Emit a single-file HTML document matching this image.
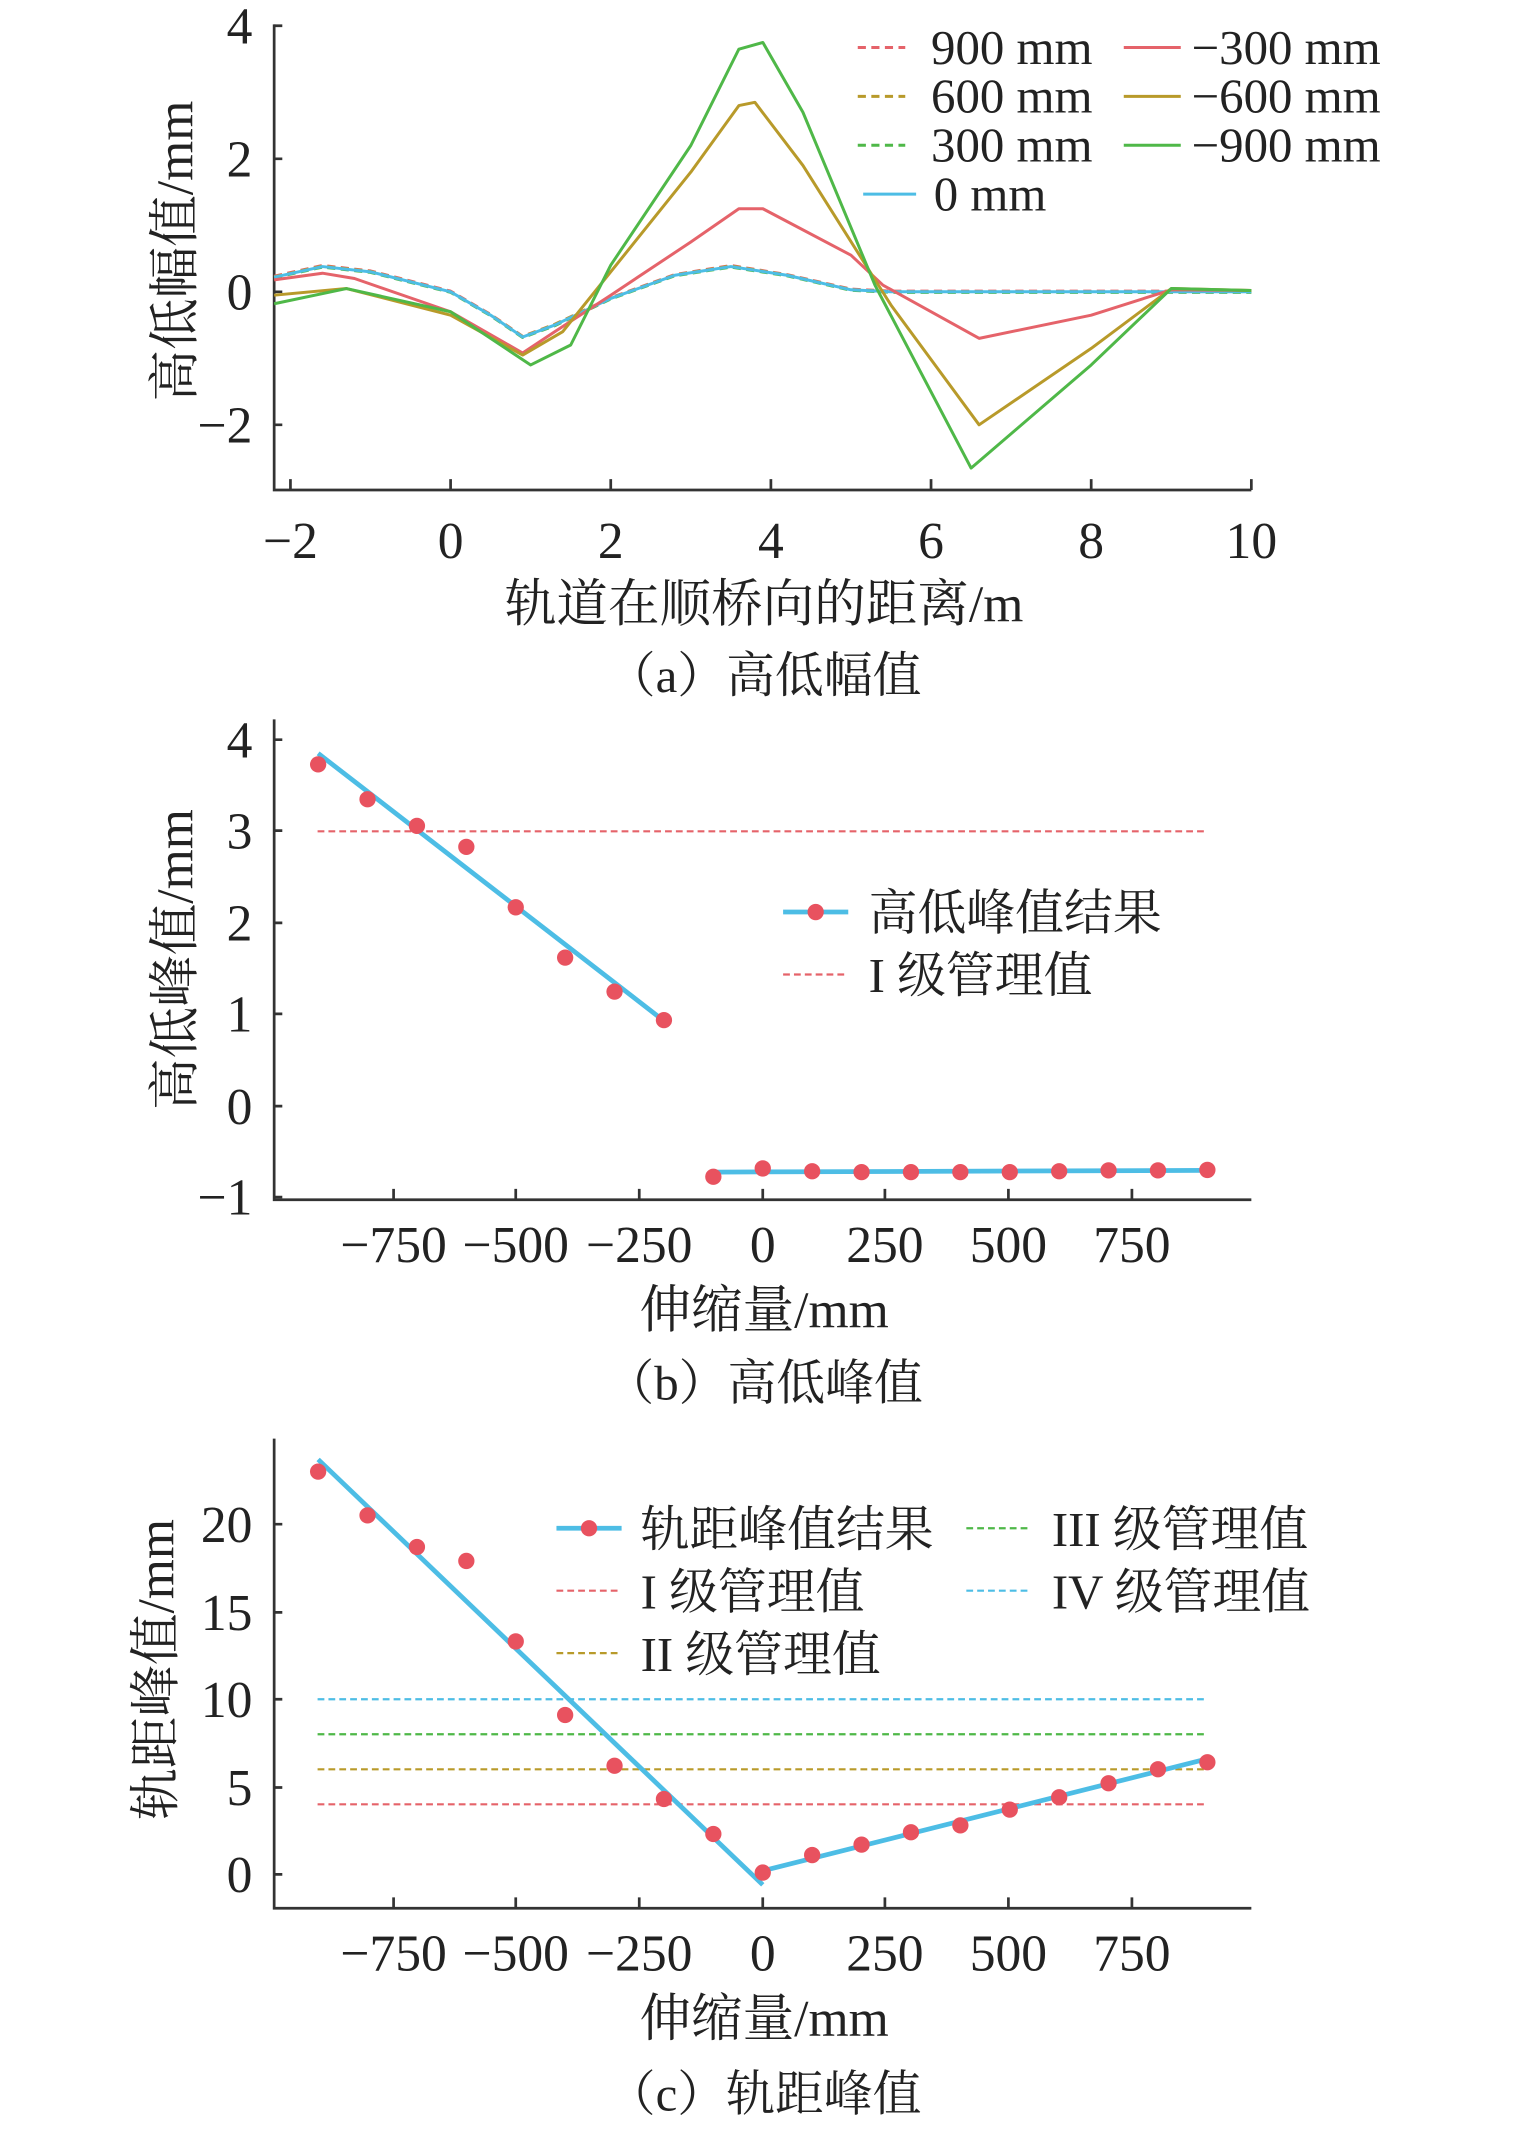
<!DOCTYPE html>
<html><head><meta charset="utf-8"><style>
html,body{margin:0;padding:0;background:#fff;}
svg{display:block;}
text{font-family:"Liberation Serif","Noto Serif CJK SC",serif;fill:#222;}
</style></head><body>
<svg width="1535" height="2139" viewBox="0 0 1131 1576" preserveAspectRatio="none" xmlns="http://www.w3.org/2000/svg">
<rect width="1131" height="1576" fill="#fff"/>
<!-- Panel A -->
<g stroke="#333" stroke-width="2" fill="none">
<path d="M202 18 V361 H922"/>
<path d="M202 19 h6 M202 117 h6 M202 215 h6 M202 313 h6"/>
<path d="M214 361 v-8 M332 361 v-8 M450 361 v-8 M568 361 v-8 M686 361 v-8 M804 361 v-8 M922 361 v-8"/>
</g>
<g font-size="38" text-anchor="end">
<text x="186" y="32">4</text><text x="186" y="130">2</text><text x="186" y="228">0</text><text x="186" y="326">−2</text>
</g>
<g font-size="38" text-anchor="middle">
<text x="214" y="411">−2</text><text x="332" y="411">0</text><text x="450" y="411">2</text><text x="568" y="411">4</text><text x="686" y="411">6</text><text x="804" y="411">8</text><text x="922" y="411">10</text>
<text x="563" y="458">轨道在顺桥向的距离/m</text>
<text x="563" y="510" font-size="36">（a）高低幅值</text>
</g>
<text transform="translate(142,185) rotate(-90)" font-size="38" text-anchor="middle">高低幅值/mm</text>
<g fill="none" stroke-width="2.2" stroke-linejoin="round">
<polyline stroke="#e5636a" stroke-dasharray="6,4" points="202,203.5 237.6,195.6 273,199.6 332,214.5 361.5,231.7 385.1,247.8 408.7,239 450,219.4 497.2,202.3 538.5,195.6 579.8,202.3 627,213 656.5,214.5 922,214.5"/>
<polyline stroke="#b89a2a" stroke-dasharray="6,4" points="202,204 237.6,196 273,200 332,215 361.5,232 385.1,248 408.7,239 450,219.7 497.2,202.6 538.5,196 579.8,202.6 627,213.3 656.5,215 922,215"/>
<polyline stroke="#4fb848" stroke-dasharray="6,4" points="202,204.6 237.6,196.8 273,200.7 332,215.4 361.5,232.6 385.1,248.7 408.7,240 450,220.3 497.2,203.2 538.5,196.8 579.8,203.2 627,213.9 656.5,215.4 922,215.4"/>
<polyline stroke="#4dbde5" points="202,204.2 237.6,196.4 273,200.3 332,215 361.5,232.2 385.1,248.3 408.7,239.5 450,219.9 497.2,202.8 538.5,196.4 579.8,202.8 627,213.5 656.5,215 922,215"/>
<polyline stroke="#e5636a" points="202,206.2 237.6,201.3 261.2,205.2 332,229.7 385.1,260.1 408.7,244.4 450,217.5 509,178.3 544.4,153.8 562.1,153.8 627,188 650.6,210.1 721.4,249.3 804,232.2 863,213.5 922,214"/>
<polyline stroke="#b89a2a" points="202,217.5 255.3,212.6 332,232.2 385.1,261.6 414.6,244.4 450,200.3 509,126.8 544.4,77.8 556.2,75.4 591.6,121.9 656.5,224.8 721.4,313 804,256.7 863,212.6 922,214"/>
<polyline stroke="#4fb848" points="202,223.8 255.3,212.6 332,229.7 391,268.9 420.5,254.2 450,195.4 509,107.2 544.4,36.2 562.1,31.3 591.6,82.7 644.7,210.1 715.5,344.9 804,268.9 863,212.6 922,214"/>
</g>
<g stroke-width="2.2">
<line x1="632" y1="35" x2="667" y2="35" stroke="#e5636a" stroke-dasharray="6,4"/>
<line x1="632" y1="71" x2="667" y2="71" stroke="#b89a2a" stroke-dasharray="6,4"/>
<line x1="632" y1="107" x2="667" y2="107" stroke="#4fb848" stroke-dasharray="6,4"/>
<line x1="636" y1="143" x2="675" y2="143" stroke="#4dbde5"/>
<line x1="828" y1="35" x2="870" y2="35" stroke="#e5636a"/>
<line x1="828" y1="71" x2="870" y2="71" stroke="#b89a2a"/>
<line x1="828" y1="107" x2="870" y2="107" stroke="#4fb848"/>
</g>
<g font-size="36">
<text x="686" y="47">900 mm</text><text x="686" y="83">600 mm</text><text x="686" y="119">300 mm</text><text x="688" y="155">0 mm</text>
<text x="878" y="47">−300 mm</text><text x="878" y="83">−600 mm</text><text x="878" y="119">−900 mm</text>
</g>

<!-- Panel B -->
<g stroke="#333" stroke-width="2" fill="none">
<path d="M202 530 V884 H922"/>
<path d="M202 545 h6 M202 612 h6 M202 680 h6 M202 747 h6 M202 815 h6 M202 882 h6"/>
<path d="M290 884 v-8 M380 884 v-8 M471 884 v-8 M562 884 v-8 M652 884 v-8 M743 884 v-8 M834 884 v-8"/>
</g>
<g font-size="38" text-anchor="end">
<text x="186" y="558">4</text><text x="186" y="625">3</text><text x="186" y="693">2</text><text x="186" y="760">1</text><text x="186" y="828">0</text><text x="186" y="895">−1</text>
</g>
<g font-size="38" text-anchor="middle">
<text x="290" y="930">−750</text><text x="380" y="930">−500</text><text x="471" y="930">−250</text><text x="562" y="930">0</text><text x="652" y="930">250</text><text x="743" y="930">500</text><text x="834" y="930">750</text>
<text x="563" y="978">伸缩量/mm</text>
<text x="563" y="1031" font-size="36">（b）高低峰值</text>
</g>
<text transform="translate(142,707) rotate(-90)" font-size="38" text-anchor="middle">高低峰值/mm</text>
<line x1="234" y1="612.5" x2="889" y2="612.5" stroke="#e5636a" stroke-width="1.6" stroke-dasharray="5,3"/>
<g stroke="#4dbde5" stroke-width="3.5">
<line x1="234.4" y1="555.1" x2="489.2" y2="752.2"/>
<line x1="525.6" y1="863.6" x2="889.6" y2="862.3"/>
</g>
<g fill="#e8525f">
<circle cx="234.4" cy="563.2" r="6"/><circle cx="270.8" cy="588.9" r="6"/><circle cx="307.2" cy="608.5" r="6"/><circle cx="343.6" cy="624" r="6"/><circle cx="380" cy="668.5" r="6"/><circle cx="416.4" cy="705.6" r="6"/><circle cx="452.8" cy="730.6" r="6"/><circle cx="489.2" cy="751.6" r="6"/>
<circle cx="525.6" cy="867" r="6"/><circle cx="562" cy="860.9" r="6"/><circle cx="598.4" cy="863" r="6"/><circle cx="634.8" cy="863.6" r="6"/><circle cx="671.2" cy="863.6" r="6"/><circle cx="707.6" cy="863.6" r="6"/><circle cx="744" cy="863.6" r="6"/><circle cx="780.4" cy="863" r="6"/><circle cx="816.8" cy="862.3" r="6"/><circle cx="853.2" cy="862.3" r="6"/><circle cx="889.6" cy="862" r="6"/>
</g>
<line x1="577" y1="672" x2="625" y2="672" stroke="#4dbde5" stroke-width="3.5"/>
<circle cx="601" cy="672" r="6" fill="#e8525f"/>
<line x1="577" y1="718" x2="625" y2="718" stroke="#e5636a" stroke-width="1.6" stroke-dasharray="5,3"/>
<g font-size="36"><text x="640" y="685">高低峰值结果</text><text x="640" y="731">I 级管理值</text></g>

<!-- Panel C -->
<g stroke="#333" stroke-width="2" fill="none">
<path d="M202 1060 V1406 H922"/>
<path d="M202 1123 h6 M202 1188 h6 M202 1252 h6 M202 1317 h6 M202 1381 h6"/>
<path d="M290 1406 v-8 M380 1406 v-8 M471 1406 v-8 M562 1406 v-8 M652 1406 v-8 M743 1406 v-8 M834 1406 v-8"/>
</g>
<g font-size="38" text-anchor="end">
<text x="186" y="1136">20</text><text x="186" y="1201">15</text><text x="186" y="1265">10</text><text x="186" y="1330">5</text><text x="186" y="1394">0</text>
</g>
<g font-size="38" text-anchor="middle">
<text x="290" y="1452">−750</text><text x="380" y="1452">−500</text><text x="471" y="1452">−250</text><text x="562" y="1452">0</text><text x="652" y="1452">250</text><text x="743" y="1452">500</text><text x="834" y="1452">750</text>
<text x="563" y="1500">伸缩量/mm</text>
<text x="563" y="1555" font-size="36">（c）轨距峰值</text>
</g>
<text transform="translate(128,1230) rotate(-90)" font-size="38" text-anchor="middle">轨距峰值/mm</text>
<g stroke-width="1.6" stroke-dasharray="5,3">
<line x1="234" y1="1252" x2="889" y2="1252" stroke="#4dbde5"/>
<line x1="234" y1="1277.8" x2="889" y2="1277.8" stroke="#4fb848"/>
<line x1="234" y1="1303.6" x2="889" y2="1303.6" stroke="#b89a2a"/>
<line x1="234" y1="1329.4" x2="889" y2="1329.4" stroke="#e5636a"/>
</g>
<g stroke="#4dbde5" stroke-width="3.5">
<line x1="234.4" y1="1075.3" x2="562" y2="1388.7"/>
<line x1="562" y1="1378.4" x2="889.6" y2="1295.9"/>
</g>
<g fill="#e8525f">
<circle cx="234.4" cy="1084.3" r="6"/><circle cx="270.8" cy="1116.5" r="6"/><circle cx="307.2" cy="1139.8" r="6"/><circle cx="343.6" cy="1150.1" r="6"/><circle cx="380" cy="1209.4" r="6"/><circle cx="416.4" cy="1263.6" r="6"/><circle cx="452.8" cy="1301" r="6"/><circle cx="489.2" cy="1325.5" r="6"/><circle cx="525.6" cy="1351.3" r="6"/><circle cx="562" cy="1379.7" r="6"/>
<circle cx="598.4" cy="1366.8" r="6"/><circle cx="634.8" cy="1359.1" r="6"/><circle cx="671.2" cy="1350" r="6"/><circle cx="707.6" cy="1344.9" r="6"/><circle cx="744" cy="1333.3" r="6"/><circle cx="780.4" cy="1324.2" r="6"/><circle cx="816.8" cy="1313.9" r="6"/><circle cx="853.2" cy="1303.6" r="6"/><circle cx="889.6" cy="1298.4" r="6"/>
</g>
<line x1="410" y1="1126" x2="458" y2="1126" stroke="#4dbde5" stroke-width="3.5"/>
<circle cx="434" cy="1126" r="6" fill="#e8525f"/>
<g stroke-width="1.6" stroke-dasharray="5,3">
<line x1="410" y1="1172" x2="458" y2="1172" stroke="#e5636a"/>
<line x1="410" y1="1218" x2="458" y2="1218" stroke="#b89a2a"/>
<line x1="712" y1="1126" x2="760" y2="1126" stroke="#4fb848"/>
<line x1="712" y1="1172" x2="760" y2="1172" stroke="#4dbde5"/>
</g>
<g font-size="36">
<text x="472" y="1139">轨距峰值结果</text><text x="472" y="1185">I 级管理值</text><text x="472" y="1231">II 级管理值</text>
<text x="775" y="1139">III 级管理值</text><text x="775" y="1185">IV 级管理值</text>
</g>
</svg>
</body></html>
